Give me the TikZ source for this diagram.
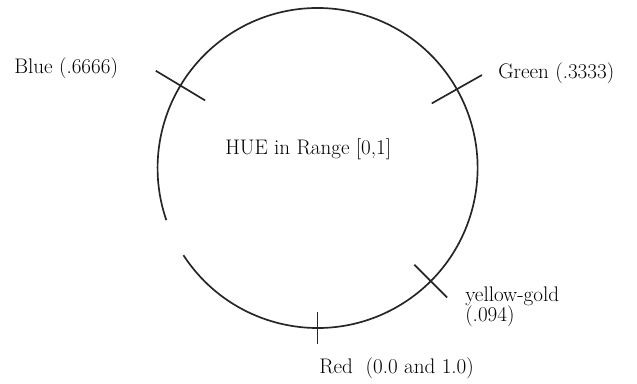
\documentclass[tikz,border=0pt]{standalone}
\usetikzlibrary{calc}

\begin{document}
\begin{tikzpicture}[
    every node/.style={inner sep=0pt},
    lbl/.style={font=\fontsize{15}{14.2}\selectfont, anchor=base west},
    hueline/.style={line width=1.2pt, black!85},
  ]

  % Frame
  \useasboundingbox (0,0) rectangle (15.925,9.575);

  % Hue circle (open at the lower left)
  \coordinate (c) at (7.94,5.375);
  \draw[hueline] (c) ++(213:4) arc[start angle=213, end angle=559, radius=4];

  % Ticks: angle / half length
  \foreach \ang/\half [count=\i] in {149/0.72, 29.5/0.72, 270/0.4, -45/0.58} {
    \coordinate (tin\i) at ($(c)+(\ang:4-\half)$);
    \coordinate (tout\i) at ($(c)+(\ang:4+\half)$);
    \draw[hueline] (tin\i) -- (tout\i);
  }

  % Labels
  \node[lbl] (hue) at (5.625,5.717) {HUE in Range [0,1]};
  \node[lbl] (blue) at (0.35,7.725) {Blue (.6666)};
  \node[lbl] (green) at (12.45,7.6) {Green (.3333)};
  \node[lbl] (gold) at (11.625,2.03) {yellow-gold};
  \node[lbl] (goldval) at (11.625,1.53) {(.094)};
  \node[lbl] (red) at (7.975,0.25) {Red\ \ (0.0 and 1.0)};

\end{tikzpicture}
\end{document}
